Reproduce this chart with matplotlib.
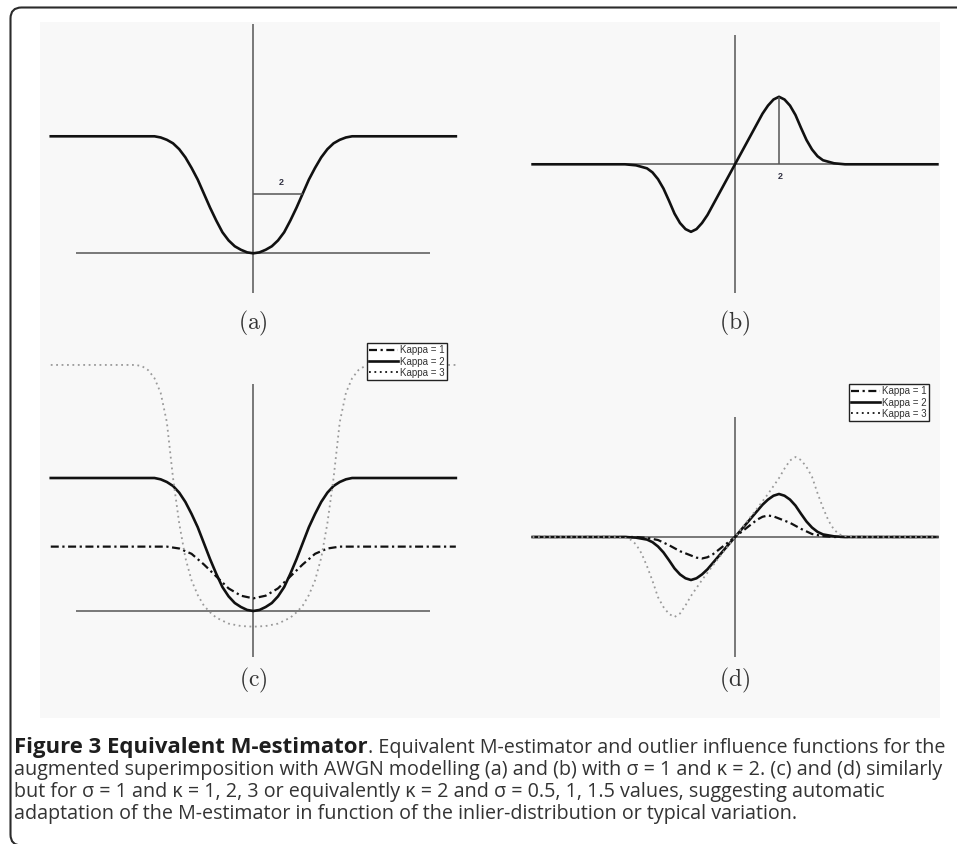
import matplotlib
matplotlib.use('Agg')
import matplotlib.pyplot as plt
import numpy as np
from matplotlib.patches import FancyBboxPatch, Rectangle
from matplotlib.transforms import IdentityTransform

plt.rcParams['mathtext.fontset'] = 'cm'

# ---- data (x in panel units, y normalised) ----
# (a) / (c): equivalent M-estimator rho(x)
rho_x = [-8.2, -4.5, -4.0, -3.75, -3.5, -3.25, -3.0, -2.75, -2.5, -2.25, -2.0,
         -1.75, -1.5, -1.25, -1.0, -0.75, -0.5, -0.25, 0.0, 0.25, 0.5, 0.75,
         1.0, 1.25, 1.5, 1.75, 2.0, 2.25, 2.5, 2.75, 3.0, 3.25, 3.5, 3.75,
         4.0, 4.5, 8.2]
rho_k2 = [1.0, 1.0, 1.0, 0.99, 0.97, 0.94, 0.89, 0.82, 0.73, 0.63, 0.51,
          0.39, 0.28, 0.18, 0.11, 0.06, 0.03, 0.008, 0.0, 0.008, 0.03, 0.06,
          0.11, 0.18, 0.28, 0.39, 0.51, 0.63, 0.73, 0.82, 0.89, 0.94, 0.97, 0.99,
          1.0, 1.0, 1.0]

rho1_x = [-8.2, -3.5, -3.0, -2.5, -2.0, -1.5, -1.0, -0.5, 0.0,
          0.5, 1.0, 1.5, 2.0, 2.5, 3.0, 3.5, 8.2]
rho_k1 = [0.484, 0.484, 0.47, 0.43, 0.35, 0.26, 0.17, 0.115, 0.095,
          0.115, 0.17, 0.26, 0.35, 0.43, 0.47, 0.484, 0.484]

rho3_x = [-8.2, -4.75, -4.5, -4.25, -4.0, -3.75, -3.5, -3.25, -3.0, -2.75, -2.5, -2.25,
          -2.0, -1.75, -1.5, -1.0, -0.5, 0.0, 0.5, 1.0, 1.5, 1.75, 2.0, 2.25,
          2.5, 2.75, 3.0, 3.25, 3.5, 3.75, 4.0, 4.25, 4.5, 4.75, 8.2]
rho_k3 = [1.85, 1.85, 1.84, 1.81, 1.75, 1.64, 1.42, 1.0, 0.66, 0.40, 0.23, 0.12,
          0.04, -0.01, -0.05, -0.095, -0.113, -0.118, -0.113, -0.095, -0.05, -0.01, 0.04, 0.12,
          0.23, 0.40, 0.66, 1.0, 1.42, 1.64, 1.75, 1.81, 1.84, 1.85, 1.85]

# (b) / (d): outlier influence psi(x)
psi_x = [-9.2, -5.0, -4.5, -4.0, -3.75, -3.5, -3.25, -3.0, -2.75, -2.5, -2.25,
         -2.0, -1.75, -1.5, -1.25, -1.0, -0.5, 0.0, 0.5, 1.0, 1.25, 1.5, 1.75,
         2.0, 2.25, 2.5, 2.75, 3.0, 3.25, 3.5, 3.75, 4.0, 4.5, 5.0, 9.2]
psi_k2 = [0.0, 0.0, -0.015, -0.06, -0.12, -0.22, -0.36, -0.54, -0.73, -0.87, -0.96,
          -1.0, -0.96, -0.87, -0.75, -0.60, -0.30, 0.0, 0.30, 0.60, 0.75, 0.87, 0.96,
          1.0, 0.96, 0.87, 0.73, 0.54, 0.36, 0.22, 0.12, 0.06, 0.015, 0.0, 0.0]

psi1_x = [-9.2, -4.5, -4.0, -3.5, -3.0, -2.5, -2.0, -1.75, -1.5, -1.25, -1.0, -0.5,
          0.0, 0.5, 1.0, 1.25, 1.5, 1.75, 2.0, 2.5, 3.0, 3.5, 4.0, 4.5, 9.2]
psi_k1 = [0.0, 0.0, -0.02, -0.07, -0.19, -0.33, -0.43, -0.48, -0.5, -0.47, -0.40, -0.2,
          0.0, 0.2, 0.40, 0.47, 0.5, 0.48, 0.43, 0.33, 0.19, 0.07, 0.02, 0.0, 0.0]

psi3_x = [-9.2, -5.5, -5.0, -4.75, -4.5, -4.25, -4.0, -3.75, -3.5, -3.25, -3.0, -2.75,
          -2.5, -2.25, -2.0, -1.5, -1.0, -0.5, 0.0, 0.5, 1.0, 1.5, 2.0, 2.25, 2.5,
          2.75, 3.0, 3.25, 3.5, 3.75, 4.0, 4.25, 4.5, 4.75, 5.0, 5.5, 9.2]
psi_k3 = [0.0, 0.0, -0.02, -0.06, -0.17, -0.38, -0.68, -1.02, -1.40, -1.63, -1.79, -1.86,
          -1.78, -1.59, -1.37, -1.0, -0.66, -0.33, 0.0, 0.33, 0.66, 1.0, 1.37, 1.59, 1.78,
          1.86, 1.79, 1.63, 1.40, 1.02, 0.68, 0.38, 0.17, 0.06, 0.02, 0.0, 0.0]

kappa_labels = ['Kappa = 1', 'Kappa = 2', 'Kappa = 3']
mark_value = 2.0

caption_bold = 'Figure 3 Equivalent M-estimator'
caption_lines = [
    '. Equivalent M-estimator and outlier influence functions for the',
    'augmented superimposition with AWGN modelling (a) and (b) with \u03c3 = 1 and \u03ba = 2. (c) and (d) similarly',
    'but for \u03c3 = 1 and \u03ba = 1, 2, 3 or equivalently \u03ba = 2 and \u03c3 = 0.5, 1, 1.5 values, suggesting automatic',
    'adaptation of the M-estimator in function of the inlier-distribution or typical variation.',
]

# ---- figure ----
W, H = 957, 844
fig = plt.figure(figsize=(W / 100, H / 100), dpi=100)
fig.patch.set_facecolor('white')


def px_axes(ox, oy, ux, uy, xlim, ylim):
    # place an axes so that data (0,0) sits at pixel (ox, oy) from top-left
    left = ox + xlim[0] * ux
    right = ox + xlim[1] * ux
    top = oy - ylim[1] * uy
    bottom = oy - ylim[0] * uy
    ax = fig.add_axes([left / W, 1 - bottom / H, (right - left) / W, (bottom - top) / H])
    ax.set_xlim(xlim)
    ax.set_ylim(ylim)
    ax.axis('off')
    ax.patch.set_visible(False)
    return ax


def kappa_legend(ax, corner):
    lg = ax.legend(loc='upper right', bbox_to_anchor=(corner[0] / W, 1 - corner[1] / H),
                   bbox_transform=fig.transFigure,
                   prop={'family': 'Liberation Sans', 'size': 7},
                   handlelength=3.0, handletextpad=0.15, borderpad=0.25,
                   labelspacing=0.12, borderaxespad=0.0, fancybox=False,
                   framealpha=1.0, edgecolor='#222222')
    lg.get_frame().set_linewidth(1.0)
    for ln in lg.get_lines():
        ln.set_color('#111111')
    for t in lg.get_texts():
        t.set_color('#333333')
    return lg


# light grey image area and the rounded frame
fig.patches.append(Rectangle((40, H - 718), 900, 696, transform=IdentityTransform(),
                             facecolor='#f8f8f8', edgecolor='none', zorder=-5))
fig.patches.append(FancyBboxPatch((10.5, -1.5), 990, H - 7.5 + 1.5,
                                  boxstyle='round,pad=0,rounding_size=11',
                                  transform=IdentityTransform(), facecolor='none',
                                  edgecolor='#2b2b2b', linewidth=1.5, zorder=-4))

AX_C = '#555555'
CURVE_C = '#111111'
DOT_C = '#9a9a9a'
DASHDOT = (0, (3.6, 1.6, 1.0, 1.6))
DOTTED = (0, (1.0, 2.0))

# (a)
ax = px_axes(253.3, 253.3, 24.7, 117.0, (-9, 9), (-0.6, 2.2))
ax.hlines(0, -7.17, 7.17, color=AX_C, lw=1.1)
ax.vlines(0, -0.342, 1.957, color=AX_C, lw=1.1)
ax.plot(rho_x, rho_k2, color=CURVE_C, lw=1.9)
mark_y = np.interp(mark_value, rho_x, rho_k2)
ax.hlines(mark_y, 0, mark_value, color=AX_C, lw=1.1)
ax.text(mark_value * 0.56, mark_y + 0.06, '2', ha='center', va='bottom',
        fontsize=6.5, color='#333344', family='Liberation Sans', fontweight='bold')

# (b)
ax = px_axes(735.0, 164.3, 22.0, 67.5, (-10, 10), (-2.2, 2.2))
ax.hlines(0, -9.18, 9.18, color=AX_C, lw=1.1)
ax.vlines(0, -1.91, 1.92, color=AX_C, lw=1.1)
ax.plot(psi_x, psi_k2, color=CURVE_C, lw=1.9)
ax.vlines(mark_value, 0, np.interp(mark_value, psi_x, psi_k2), color=AX_C, lw=1.1)
ax.text(mark_value + 0.05, -0.12, '2', ha='center', va='top',
        fontsize=6.5, color='#333344', family='Liberation Sans', fontweight='bold')

# (c)
ax = px_axes(253.3, 611.0, 24.7, 133.0, (-9, 9), (-0.5, 2.0))
ax.hlines(0, -7.17, 7.17, color=AX_C, lw=1.1)
ax.vlines(0, -0.346, 1.71, color=AX_C, lw=1.1)
ax.plot(rho1_x, rho_k1, color=CURVE_C, lw=1.6, linestyle=DASHDOT, label=kappa_labels[0])
ax.plot(rho_x, rho_k2, color=CURVE_C, lw=1.9, label=kappa_labels[1])
ax.plot(rho3_x, rho_k3, color=DOT_C, lw=1.3, linestyle=DOTTED, label=kappa_labels[2])
kappa_legend(ax, (447, 343))

# (d)
ax = px_axes(735.0, 537.0, 22.0, 43.0, (-10, 10), (-3.2, 3.2))
ax.hlines(0, -9.18, 9.18, color=AX_C, lw=1.1)
ax.vlines(0, -2.79, 2.79, color=AX_C, lw=1.1)
ax.plot(psi1_x, psi_k1, color=CURVE_C, lw=1.6, linestyle=DASHDOT, label=kappa_labels[0])
ax.plot(psi_x, psi_k2, color=CURVE_C, lw=1.9, label=kappa_labels[1])
ax.plot(psi3_x, psi_k3, color=DOT_C, lw=1.3, linestyle=DOTTED, label=kappa_labels[2])
kappa_legend(ax, (929, 384))

# panel labels
for lab, (px, py) in zip(['a', 'b', 'c', 'd'],
                         [(253, 323), (735, 323), (253, 680), (735, 680)]):
    fig.text(px / W, 1 - py / H, r'$(\mathrm{%s})$' % lab, ha='center', va='center',
             fontsize=17, color='#333333')

# caption: fit bold run and regular lines to the widths seen in the picture
renderer = fig.canvas.get_renderer()
probe_b = fig.text(0, 0, caption_bold, family='Open Sans', fontweight='bold', fontsize=10)
probe_r = fig.text(0, 0, caption_lines[1], family='Open Sans', fontsize=10)
wb = probe_b.get_window_extent(renderer).width
wr = probe_r.get_window_extent(renderer).width
probe_b.remove()
probe_r.remove()
fs_r = 10 * 932.0 / wr
fs_b = min(10 * 402.0 / wb, fs_r * 1.12)

baselines = [753.5, 775.5, 797.5, 819.5]
x0 = 14
tb = fig.text(x0 / W, 1 - baselines[0] / H, caption_bold, family='Open Sans',
              fontweight='bold', fontsize=fs_b, color='#1e1e1e', va='baseline')
bb = tb.get_window_extent(renderer)
fig.text(bb.x1 / W, 1 - baselines[0] / H, caption_lines[0], family='Open Sans',
         fontsize=fs_r, color='#333333', va='baseline')
for line, yb in zip(caption_lines[1:], baselines[1:]):
    fig.text(x0 / W, 1 - yb / H, line, family='Open Sans', fontsize=fs_r,
             color='#333333', va='baseline')

fig.savefig('out.png', dpi=100)
